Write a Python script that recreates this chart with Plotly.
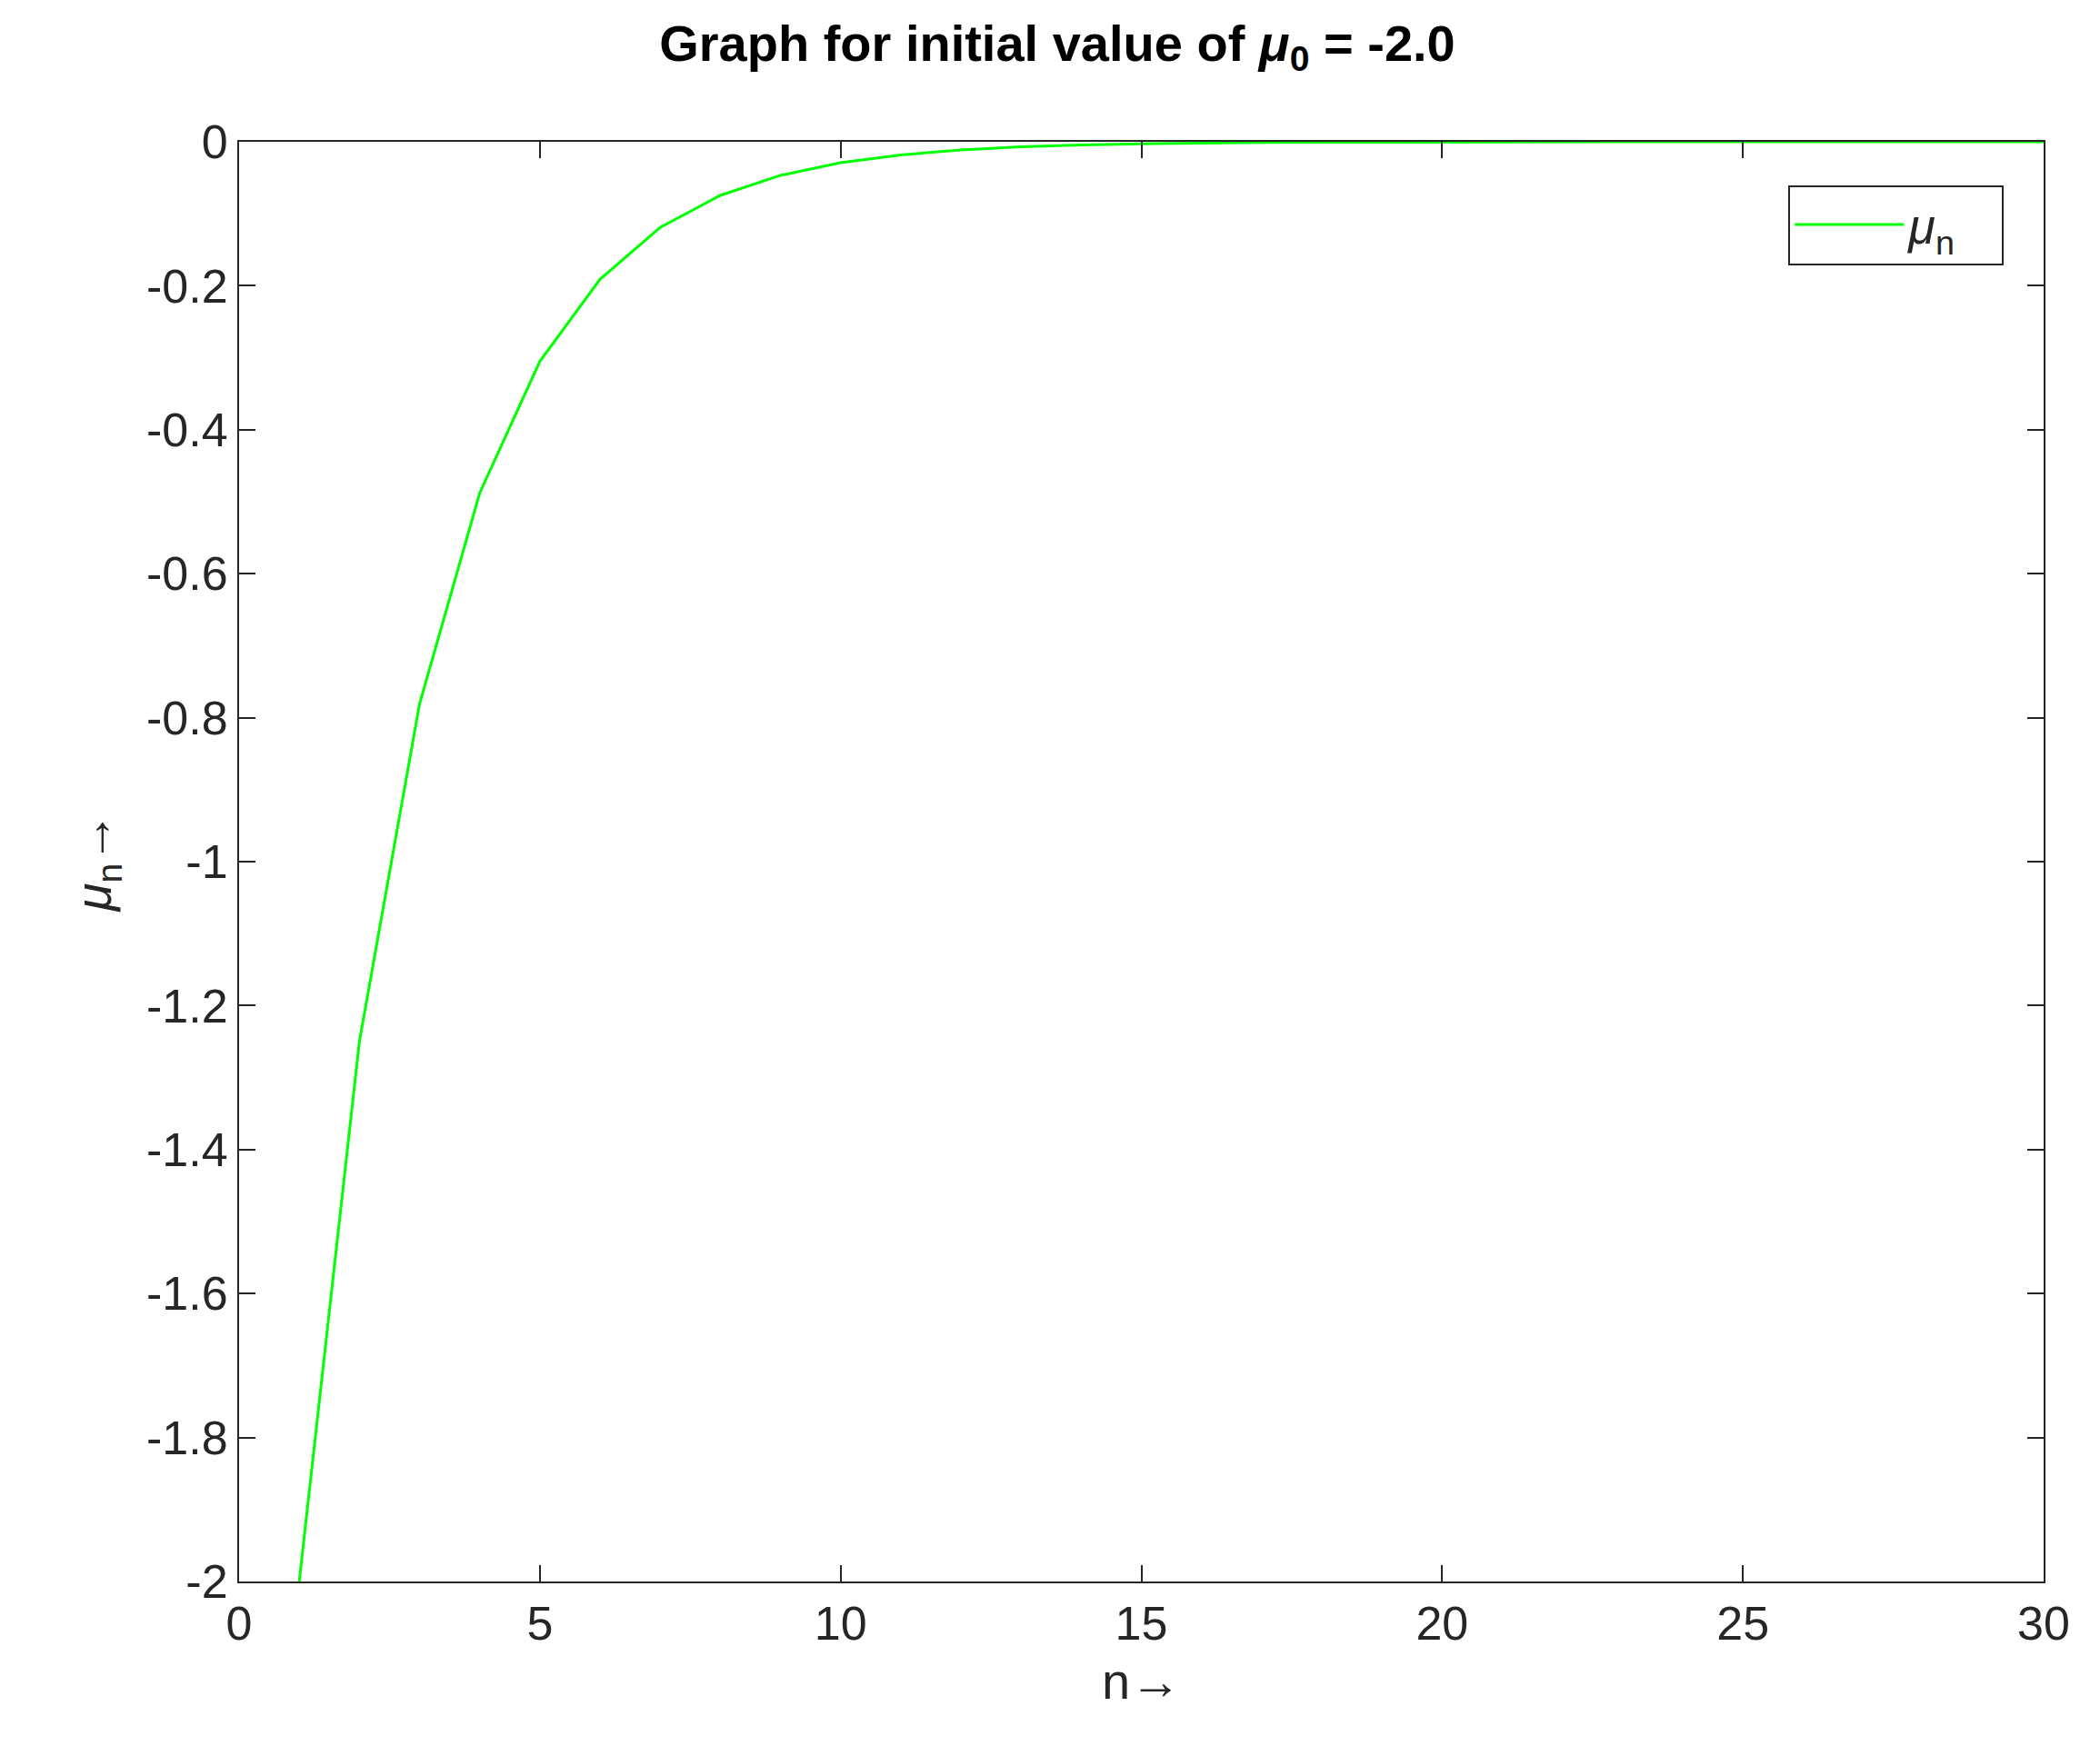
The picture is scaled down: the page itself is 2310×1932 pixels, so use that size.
import plotly.graph_objects as go

n = list(range(1, 31))
mu = [-2.0, -1.25, -0.781, -0.488, -0.305, -0.191, -0.119, -0.0745, -0.0466, -0.0291,
      -0.0182, -0.0114, -0.0071, -0.0044, -0.0028, -0.0017, -0.0011, -0.0007, -0.0004, -0.0003,
      -0.0002, -0.0001, -0.00007, -0.00004, -0.00003, -0.00002, -0.00001, -0.000007, -0.000004, -0.000003]

fig = go.Figure()
fig.add_trace(go.Scatter(x=n, y=mu, mode="lines", line=dict(color="#00ff00", width=3),
                         name="<i>μ</i><sub>n</sub>   "))
ax = dict(showline=True, linecolor="#262626", linewidth=2, mirror="ticks", ticks="inside",
          ticklen=18, tickwidth=2, tickcolor="#262626", showgrid=False, zeroline=False,
          tickfont=dict(size=52, color="#262626", family="Arial, Liberation Sans"))
fig.update_layout(
    width=2310, height=1932, plot_bgcolor="white", paper_bgcolor="white",
    margin=dict(l=255, r=70, t=148, b=200),
    font=dict(family="Arial, Liberation Sans", color="#262626"),
    title=dict(text="<b>Graph for initial value of <i>μ</i><sub>0</sub> = -2.0</b>",
               x=0.5, xanchor="center", y=0.99, yanchor="top", font=dict(size=56, color="black")),
    xaxis=dict(range=[0, 30], tickvals=[0, 5, 10, 15, 20, 25, 30],
               title=dict(text="n→", font=dict(size=56), standoff=15), **ax),
    yaxis=dict(range=[-2, 0], tickvals=[-2, -1.8, -1.6, -1.4, -1.2, -1, -0.8, -0.6, -0.4, -0.2, 0],
               ticktext=["-2", "-1.8", "-1.6", "-1.4", "-1.2", "-1", "-0.8", "-0.6", "-0.4", "-0.2", "0"],
               title=dict(text="<i>μ</i><sub>n</sub>→", font=dict(size=56), standoff=20), **ax),
    showlegend=True,
    legend=dict(x=0.978, y=0.97, xanchor="right", yanchor="top", bgcolor="white",
                bordercolor="#262626", borderwidth=2, itemwidth=120,
                font=dict(size=54, color="#262626")),
)
fig.write_html("out.html")
